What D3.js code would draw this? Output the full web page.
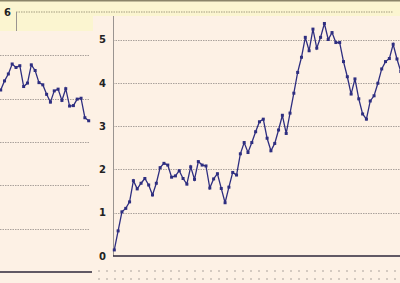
<!DOCTYPE html>
<html>
<head>
<meta charset="utf-8">
<script src="https://cdn.jsdelivr.net/npm/d3@7"></script>
<style>
  body { margin: 0; padding: 0; background: #fdf1e5; }
  svg { display: block; }
  text { font-family: "DejaVu Sans", sans-serif; font-size: 10px; font-weight: bold; fill: #222; }
</style>
</head>
<body>
<script>

// values of the series in the right panel
var rightValues = [0.14, 0.58, 1.02, 1.10, 1.25, 1.74, 1.55, 1.68, 1.79, 1.64,
	1.41, 1.68, 2.04, 2.14, 2.10, 1.82, 1.85, 1.97, 1.79, 1.66,
	2.06, 1.77, 2.18, 2.10, 2.08, 1.57, 1.78, 1.90, 1.56, 1.23,
	1.59, 1.93, 1.87, 2.36, 2.62, 2.39, 2.62, 2.87, 3.10, 3.16,
	2.72, 2.43, 2.60, 2.91, 3.25, 2.83, 3.30, 3.76, 4.24, 4.59,
	5.05, 4.74, 5.24, 4.80, 5.05, 5.37, 5.00, 5.16, 4.93, 4.93,
	4.49, 4.14, 3.74, 4.09, 3.63, 3.28, 3.16, 3.58, 3.70, 3.99,
	4.32, 4.49, 4.56, 4.89, 4.55, 4.26];

// values of the series in the left panel (cut off piece)
var leftValues = [4.20, 4.41, 4.57, 4.80, 4.72, 4.76, 4.28, 4.36, 4.78, 4.65,
	4.37, 4.32, 4.10, 3.92, 4.18, 4.22, 3.96, 4.23, 3.83, 3.84,
	3.99, 4.01, 3.56, 3.49];

var yTicks = [0, 1, 2, 3, 4, 5];
var backTicks = [6];

var W = 400, H = 283;
var lineColor = "#2e2e80";
var gridColor = "#aaa29c";

var svg = d3.select("body").append("svg")
	.attr("width", W)
	.attr("height", H);

var defs = svg.append("defs");
var pat = defs.append("pattern")
	.attr("id", "xdots")
	.attr("patternUnits", "userSpaceOnUse")
	.attr("x", 97).attr("y", 269)
	.attr("width", 8).attr("height", 8);
pat.append("path")
	.attr("d", "M1,1L3,3M3,1L1,3")
	.attr("stroke", "#c9c0b8")
	.attr("stroke-width", 0.8);

// ---- back chart (yellow) ----
svg.append("rect")
	.attr("x", 0).attr("y", 0)
	.attr("width", W).attr("height", H)
	.attr("fill", "#fbf5d0");

var yBack = d3.scaleLinear().domain([0, 6]).range([272, 12]);

svg.selectAll(".backgrid").data(backTicks).enter().append("line")
	.attr("x1", 16).attr("x2", 393)
	.attr("y1", function(d){ return yBack(d); })
	.attr("y2", function(d){ return yBack(d); })
	.attr("stroke", "#a39d80")
	.attr("stroke-dasharray", "1.5,1");

svg.selectAll(".backlabel").data(backTicks).enter().append("text")
	.attr("x", 11).attr("y", function(d){ return yBack(d); })
	.attr("dy", "0.35em")
	.attr("text-anchor", "end")
	.text(function(d){ return d; });

svg.append("line")
	.attr("x1", 16.5).attr("x2", 16.5)
	.attr("y1", yBack(6)).attr("y2", 32)
	.attr("stroke", "#9a9490");

// ---- left panel ----
var left = svg.append("g");
left.append("rect")
	.attr("x", 0).attr("y", 31)
	.attr("width", 93).attr("height", H - 31)
	.attr("fill", "#fdf1e5");

var xL = d3.scaleLinear().domain([0, leftValues.length - 1]).range([0.7, 88.7]);
var yL = yBack;

left.selectAll(".grid").data(yTicks.slice(1)).enter().append("line")
	.attr("x1", 0).attr("x2", 90)
	.attr("y1", function(d){ return Math.round(yL(d)) + 0.5; })
	.attr("y2", function(d){ return Math.round(yL(d)) + 0.5; })
	.attr("stroke", gridColor)
	.attr("stroke-dasharray", "1.5,1");

left.append("line")
	.attr("x1", 0).attr("x2", 92)
	.attr("y1", yL(0)).attr("y2", yL(0))
	.attr("stroke", "#2c2638")
	.attr("stroke-width", 1.6);

var lineL = d3.line()
	.x(function(d, i){ return xL(i); })
	.y(function(d){ return yL(d); });

left.append("path")
	.datum(leftValues)
	.attr("d", lineL)
	.attr("fill", "none")
	.attr("stroke", lineColor)
	.attr("stroke-width", 1.3);

left.selectAll(".mark").data(leftValues).enter().append("rect")
	.attr("x", function(d, i){ return xL(i) - 1.5; })
	.attr("y", function(d){ return yL(d) - 1.5; })
	.attr("width", 3).attr("height", 3)
	.attr("fill", lineColor);

// ---- right panel ----
var right = svg.append("g");
right.append("rect")
	.attr("x", 93).attr("y", 16)
	.attr("width", W - 93).attr("height", H - 16)
	.attr("fill", "#fdf1e5");

right.append("rect")
	.attr("x", 95).attr("y", 266)
	.attr("width", W - 95).attr("height", H - 266)
	.attr("fill", "url(#xdots)");

var xR = d3.scaleLinear().domain([0, rightValues.length - 1]).range([114.3, 400.8]);
var yR = d3.scaleLinear().domain([0, 5]).range([256, 39.5]);

right.selectAll(".grid").data(yTicks.slice(1)).enter().append("line")
	.attr("x1", 113).attr("x2", W)
	.attr("y1", function(d){ return Math.round(yR(d)) + 0.5; })
	.attr("y2", function(d){ return Math.round(yR(d)) + 0.5; })
	.attr("stroke", gridColor)
	.attr("stroke-dasharray", "1.5,1");

right.append("line")
	.attr("x1", 113.5).attr("x2", 113.5)
	.attr("y1", 16).attr("y2", yR(0))
	.attr("stroke", "#9a9490");

var yAxis = d3.axisLeft(yR).tickValues(yTicks).tickFormat(d3.format("d"))
	.tickSize(0).tickPadding(7);
var ag = right.append("g")
	.attr("transform", "translate(113,0)")
	.call(yAxis);
ag.select(".domain").remove();
ag.selectAll("text")
	.attr("font-size", null)
	.attr("font-family", null)
	.attr("fill", "#222");

right.append("line")
	.attr("x1", 113).attr("x2", W)
	.attr("y1", yR(0)).attr("y2", yR(0))
	.attr("stroke", "#2c2638")
	.attr("stroke-width", 1.6);

var lineR = d3.line()
	.x(function(d, i){ return xR(i); })
	.y(function(d){ return yR(d); });

right.append("path")
	.datum(rightValues)
	.attr("d", lineR)
	.attr("fill", "none")
	.attr("stroke", lineColor)
	.attr("stroke-width", 1.3);

right.selectAll(".mark").data(rightValues).enter().append("rect")
	.attr("x", function(d, i){ return xR(i) - 1.5; })
	.attr("y", function(d){ return yR(d) - 1.5; })
	.attr("width", 3).attr("height", 3)
	.attr("fill", lineColor);

// top border
svg.append("line")
	.attr("x1", 0).attr("x2", W)
	.attr("y1", 0.75).attr("y2", 0.75)
	.attr("stroke", "#8a8468")
	.attr("stroke-width", 1.5);

</script>
</body>
</html>
